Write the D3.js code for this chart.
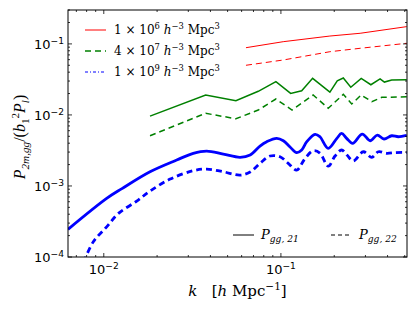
<!DOCTYPE html>
<html>
<head>
<meta charset="utf-8">
<script src="https://cdn.jsdelivr.net/npm/d3@7"></script>
<style>
  body { margin: 0; background: #fff; }
  text { fill: #000; }
</style>
</head>
<body>
<div id="chart"></div>
<script>
const SIZE = { width: 417, height: 313 }
const MARGIN = { left: 68, right: 10, top: 10, bottom: 56 }

const kDomain = [0.00628, 0.515]
const pDomain = [1e-4, 0.3]

// blue: 1e9 volume
const blueK21 = [0.00628,0.01038,0.01267,0.01824,0.0258,0.0320,0.0381,0.0473,0.0588,0.0670,0.0762,0.0832,0.0947,0.1032,0.1126,0.1228,0.131,0.140,0.156,0.166,0.185,0.207,0.220,0.235,0.254,0.288,0.319,0.350,0.382,0.422,0.460,0.513]
const blueP21 = [2.45e-4,6.68e-4,9.19e-4,1.585e-3,2.32e-3,2.88e-3,3.10e-3,2.81e-3,2.53e-3,2.72e-3,3.65e-3,4.20e-3,4.68e-3,4.33e-3,3.53e-3,2.94e-3,3.21e-3,4.20e-3,5.33e-3,4.93e-3,3.39e-3,4.68e-3,5.50e-3,4.68e-3,3.98e-3,5.38e-3,4.33e-3,5.21e-3,4.58e-3,5.09e-3,4.93e-3,5.16e-3]
const blueK22 = [0.0077,0.00873,0.01038,0.0121,0.01535,0.01824,0.0237,0.0320,0.0381,0.0473,0.0588,0.0670,0.0762,0.0868,0.0988,0.1096,0.1228,0.135,0.152,0.166,0.185,0.202,0.220,0.236,0.256,0.292,0.326,0.355,0.396,0.440,0.491,0.513]
const blueP22 = [8.5e-5,1.64e-4,2.66e-4,4.11e-4,6.12e-4,8.47e-4,1.25e-3,1.64e-3,1.73e-3,1.585e-3,1.42e-3,1.57e-3,2.08e-3,2.64e-3,2.58e-3,2.10e-3,1.67e-3,2.32e-3,3.13e-3,2.90e-3,1.90e-3,2.64e-3,3.21e-3,2.72e-3,2.25e-3,3.03e-3,2.53e-3,3.03e-3,2.88e-3,2.95e-3,2.97e-3,2.95e-3]

// green: 4e7 volume
const greenK21 = [0.01824,0.0376,0.0557,0.0745,0.0937,0.1135,0.131,0.151,0.189,0.208,0.225,0.248,0.284,0.322,0.363,0.384,0.422,0.513]
const greenP21 = [9.63e-3,0.0191,0.01585,0.0215,0.0294,0.0201,0.0219,0.0327,0.0210,0.0303,0.0331,0.0245,0.0327,0.0266,0.0321,0.0290,0.0310,0.0313]
const greenK22 = [0.01824,0.0376,0.0557,0.0745,0.0937,0.1156,0.152,0.185,0.225,0.251,0.284,0.326,0.371,0.513]
const greenP22 = [5.09e-3,0.01054,8.83e-3,0.01172,0.01675,0.01172,0.0191,0.0124,0.0195,0.01426,0.0191,0.01535,0.0177,0.0180]

// red: 1e6 volume
const redK = [0.0635,0.1030,0.189,0.280,0.513]
const redP21 = [0.0884,0.1074,0.129,0.141,0.175]
const redP22 = [0.050,0.0593,0.0776,0.0867,0.102]

const volumeLabels = [
  { mant: "1", exp: "6", color: "red", width: 1, dash: null },
  { mant: "4", exp: "7", color: "#008000", width: 1.5, dash: "6,4" },
  { mant: "1", exp: "9", color: "blue", width: 1, dash: "3,2,1,2" },
]
const xTickExps = [-2, -1]
const yTickExps = [-4, -3, -2, -1]

const series = [
  { k: redK, p: redP21, color: "red", width: 1, dash: null, curve: d3.curveLinear },
  { k: redK, p: redP22, color: "red", width: 1, dash: "6,4", curve: d3.curveLinear },
  { k: greenK21, p: greenP21, color: "#008000", width: 1.5, dash: null, curve: d3.curveLinear },
  { k: greenK22, p: greenP22, color: "#008000", width: 1.5, dash: "6,4", curve: d3.curveLinear },
  { k: blueK21, p: blueP21, color: "blue", width: 2.8, dash: null, curve: d3.curveCatmullRom },
  { k: blueK22, p: blueP22, color: "blue", width: 2.8, dash: "6,4", curve: d3.curveCatmullRom },
]

// writes a list of pieces {t, i (italic), s: 'sup'|'sub'} into a text element
function mathText(sel, parts, fs){
  let cur = 0
  parts.forEach(p => {
    let off = p.s === "sup" ? -0.4 * fs : p.s === "sub" ? 0.25 * fs : 0
    sel.append("tspan")
      .attr("dy", off - cur)
      .attr("font-size", p.s ? fs * 0.7 : fs)
      .attr("font-style", p.i ? "italic" : "normal")
      .text(p.t)
    cur = off
  })
}

const svg = d3.select("#chart").append("svg")
  .attr("width", SIZE.width)
  .attr("height", SIZE.height)

const x = d3.scaleLog().domain(kDomain).range([MARGIN.left, SIZE.width - MARGIN.right])
const y = d3.scaleLog().domain(pDomain).range([SIZE.height - MARGIN.bottom, MARGIN.top])
const x0 = MARGIN.left, x1 = SIZE.width - MARGIN.right
const y0 = SIZE.height - MARGIN.bottom, y1 = MARGIN.top

svg.append("clipPath").attr("id", "clip").append("rect")
  .attr("x", x0).attr("y", y1).attr("width", x1 - x0).attr("height", y0 - y1)

const plot = svg.append("g").attr("clip-path", "url(#clip)")
series.forEach(s => {
  const line = d3.line().curve(s.curve).x(d => x(d[0])).y(d => y(d[1]))
  plot.append("path")
    .attr("d", line(s.k.map((k, i) => [k, s.p[i]])))
    .attr("fill", "none")
    .attr("stroke", s.color)
    .attr("stroke-width", s.width)
    .attr("stroke-dasharray", s.dash)
})

// ticks on all four sides, pointing inward
const isMajor = v => Math.abs(Math.log10(v) - Math.round(Math.log10(v))) < 1e-6
const ticks = svg.append("g").attr("stroke", "#000").attr("stroke-width", 0.8)
x.ticks().forEach(v => {
  const len = isMajor(v) ? 4 : 2
  ticks.append("line").attr("x1", x(v)).attr("x2", x(v)).attr("y1", y0).attr("y2", y0 - len)
  ticks.append("line").attr("x1", x(v)).attr("x2", x(v)).attr("y1", y1).attr("y2", y1 + len)
})
y.ticks().forEach(v => {
  const len = isMajor(v) ? 4 : 2
  ticks.append("line").attr("y1", y(v)).attr("y2", y(v)).attr("x1", x0).attr("x2", x0 + len)
  ticks.append("line").attr("y1", y(v)).attr("y2", y(v)).attr("x1", x1).attr("x2", x1 - len)
})

svg.append("rect")
  .attr("x", x0).attr("y", y1).attr("width", x1 - x0).attr("height", y0 - y1)
  .attr("fill", "none").attr("stroke", "#000").attr("stroke-width", 1)

// tick labels
const tickFont = "DejaVu Sans, sans-serif"
xTickExps.forEach(e => {
  const t = svg.append("text")
    .attr("x", x(Math.pow(10, e))).attr("y", y0 + 17)
    .attr("text-anchor", "middle")
    .attr("font-family", tickFont).attr("font-size", 13)
  mathText(t, [{ t: "10" }, { t: "\u2212" + (-e), s: "sup" }], 13)
})
yTickExps.forEach(e => {
  const t = svg.append("text")
    .attr("x", x0 - 4).attr("y", y(Math.pow(10, e)) + 5)
    .attr("text-anchor", "end")
    .attr("font-family", tickFont).attr("font-size", 13)
  mathText(t, [{ t: "10" }, { t: "\u2212" + (-e), s: "sup" }], 13)
})

const serif = "DejaVu Serif, Liberation Serif, serif"

// axis labels
const xl = svg.append("text")
  .attr("x", (x0 + x1) / 2).attr("y", 296)
  .attr("text-anchor", "middle").attr("font-family", serif).attr("font-size", 15)
  .attr("xml:space", "preserve")
mathText(xl, [{ t: "k", i: true }, { t: "   [" }, { t: "h", i: true }, { t: " Mpc" }, { t: "\u22121", s: "sup" }, { t: "]" }], 15)

const yl = svg.append("text")
  .attr("transform", `translate(25, 137) rotate(-90)`)
  .attr("text-anchor", "middle").attr("font-family", "Liberation Serif, serif").attr("font-size", 16)
mathText(yl, [
  { t: "P", i: true }, { t: "2m,gg", i: true, s: "sub" }, { t: "/(" },
  { t: "b", i: true }, { t: "1", s: "sub" }, { t: "2", s: "sup" },
  { t: "P", i: true }, { t: "l", i: true, s: "sub" }, { t: ")" }
], 16)

// volume legend
volumeLabels.forEach((d, i) => {
  const ly = 30 + i * 21
  svg.append("line")
    .attr("x1", 85).attr("x2", 106).attr("y1", ly).attr("y2", ly)
    .attr("stroke", d.color).attr("stroke-width", d.width)
    .attr("stroke-dasharray", d.dash)
  const t = svg.append("text")
    .attr("x", 114).attr("y", ly + 4)
    .attr("font-family", serif).attr("font-size", 12)
  mathText(t, [
    { t: d.mant + " \u00d7 10" }, { t: d.exp, s: "sup" }, { t: " " },
    { t: "h", i: true }, { t: "\u22123", s: "sup" }, { t: " Mpc" }, { t: "3", s: "sup" }
  ], 12)
})

// estimator legend
const estLegend = [
  { sub: "gg, 21", dash: null, x: 233 },
  { sub: "gg, 22", dash: "4,3", x: 331 },
]
estLegend.forEach(d => {
  svg.append("line")
    .attr("x1", d.x).attr("x2", d.x + 21).attr("y1", 235).attr("y2", 235)
    .attr("stroke", "#000").attr("stroke-width", 1)
    .attr("stroke-dasharray", d.dash)
  const t = svg.append("text")
    .attr("x", d.x + 28).attr("y", 239)
    .attr("font-family", serif).attr("font-size", 13)
  mathText(t, [{ t: "P", i: true }, { t: d.sub, i: true, s: "sub" }], 13)
})
</script>
</body>
</html>
